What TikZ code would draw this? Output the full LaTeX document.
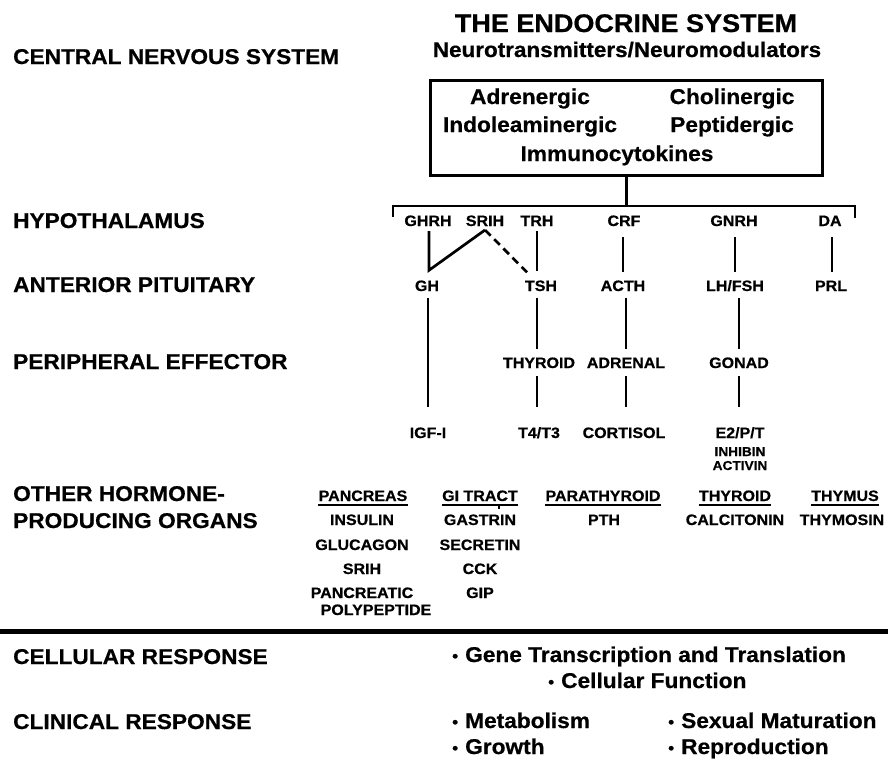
\documentclass[tikz,border=0pt]{standalone}
\usepackage{fontspec}
\setmainfont{Liberation Sans}[FakeStretch=1.06, BoldFeatures={FakeBold=0.6}]
\usetikzlibrary{calc}
\newcommand{\bul}{\makebox[13pt][l]{\fontsize{16}{16}\selectfont\raisebox{0.5pt}{•}}}
\begin{document}
\begin{tikzpicture}[x=1pt,y=-1pt,
  lbl/.style={font=\fontsize{21.4}{25}\selectfont\bfseries, inner sep=0pt, anchor=base west},
  big/.style={font=\fontsize{21.4}{25}\selectfont\bfseries, inner sep=0pt, anchor=base},
  sm/.style={font=\fontsize{15.1}{17}\selectfont\bfseries, inner sep=0pt, anchor=base},
  tny/.style={font=\fontsize{12.9}{14}\selectfont\bfseries, inner sep=0pt, anchor=base},
  conn/.style={line width=2.7pt},
  uline/.style={line width=1.8pt},
  dashconn/.style={line width=2.7pt, dash pattern=on 8pt off 5pt}]
\useasboundingbox (0,0) rectangle (888,761);
% title
\node[big, font=\fontsize{25.5}{29}\selectfont\bfseries] (title) at (626,32) {THE ENDOCRINE SYSTEM};
\node[big, font=\fontsize{21.2}{25}\selectfont\bfseries] (neuro) at (627,57) {Neurotransmitters/Neuromodulators};
% left labels
\node[lbl] (cns) at (13,64) {CENTRAL NERVOUS SYSTEM};
\node[lbl] (hyp) at (13,228) {HYPOTHALAMUS};
\node[lbl] (ant) at (13,292) {ANTERIOR PITUITARY};
\node[lbl] (per) at (13,369) {PERIPHERAL EFFECTOR};
\node[lbl] (oth1) at (13,501) {OTHER HORMONE-};
\node[lbl] (oth2) at (13,528) {PRODUCING ORGANS};
\node[lbl] (cel) at (13,664) {CELLULAR RESPONSE};
\node[lbl] (cli) at (13,729) {CLINICAL RESPONSE};
% box
\node[draw, line width=3pt, minimum width=392pt, minimum height=95pt, inner sep=0pt, anchor=north west] (box) at (429,79) {};
\node[big] (adrg) at (530,104) {Adrenergic};
\node[big] (chol) at (732,104) {Cholinergic};
\node[big] (indo) at (530,132) {Indoleaminergic};
\node[big] (pept) at (732,132) {Peptidergic};
\node[big] (immu) at (617,161) {Immunocytokines};
% bracket
\coordinate (brM) at ($(box.south)+(0,29)$);
\coordinate (brL) at (393,217);
\coordinate (brR) at (855,218);
\draw[conn] (box.south) -- (brM);
\draw[conn] (brL) -- (brL |- brM) -- (brR |- brM) -- (brR);
% hypothalamus row
\node[sm] (ghrh) at (428,226) {GHRH};
\node[sm] (srih) at (485,226) {SRIH};
\node[sm] (trh) at (537,226) {TRH};
\node[sm] (crf) at (624,226) {CRF};
\node[sm] (gnrh) at (734,226) {GNRH};
\node[sm] (da) at (830,226) {DA};
% pituitary row
\node[sm] (gh) at (427,291) {GH};
\node[sm] (tsh) at (541,291) {TSH};
\node[sm] (acth) at (623,291) {ACTH};
\node[sm] (lhfsh) at (735,291) {LH/FSH};
\node[sm] (prl) at (831,291) {PRL};
% effector row
\node[sm] (thyr) at (539,368) {THYROID};
\node[sm] (adren) at (626,368) {ADRENAL};
\node[sm] (gonad) at (739,368) {GONAD};
% hormone row
\node[sm] (igf) at (428,438) {IGF-I};
\node[sm] (t4t3) at (539,438) {T4/T3};
\node[sm] (cort) at (624,438) {CORTISOL};
\node[sm] (e2pt) at (740,438) {E2/P/T};
\node[tny] (inhib) at (740,456) {INHIBIN};
\node[tny] (activ) at (740,470) {ACTIVIN};
% hypothalamus -> pituitary
\coordinate (ghtop) at ($(gh.north)+(2,-10)$);
\coordinate (apex) at ($(srih.base)+(0,4)$);
\draw[conn, line join=miter] ($(ghrh.base)+(1,5)$) -- (ghtop) -- (apex);
\draw[dashconn] (apex) -- ($(tsh.north)+(-14,-8)$);
\draw[conn] ($(trh.base)+(0,5)$) -- ($(trh.base |- tsh.north)+(0,-9)$);
\draw[conn] ($(crf.base)+(-1,11)$) -- ($(crf.base |- acth.north)+(-1,-8)$);
\draw[conn] ($(gnrh.base)+(1,11)$) -- ($(gnrh.base |- lhfsh.north)+(1,-8)$);
\draw[conn] ($(da.base)+(2,11)$) -- ($(da.base |- prl.north)+(2,-8)$);
% pituitary -> effector -> hormone
\draw[conn] ($(gh.base)+(1,7)$) -- ($(gh.base |- igf.north)+(1,-20)$);
\draw[conn] ($(thyr.north |- tsh.base)+(-2,7)$) -- ($(thyr.north)+(-2,-8)$);
\draw[conn] ($(thyr.base)+(-2,8)$) -- ($(thyr.base |- t4t3.north)+(-2,-20)$);
\draw[conn] ($(adren.north |- acth.base)+(0,7)$) -- ($(adren.north)+(0,-8)$);
\draw[conn] ($(adren.base)+(0,8)$) -- ($(adren.base |- cort.north)+(0,-20)$);
\draw[conn] ($(gonad.north |- lhfsh.base)+(0,7)$) -- ($(gonad.north)+(0,-8)$);
\draw[conn] ($(gonad.base)+(0,8)$) -- ($(gonad.base |- e2pt.north)+(0,-20)$);
% other organs
\node[sm] (panc) at (363,501) {PANCREAS};
\node[sm] (gitr) at (480,501) {GI TRACT};
\node[sm] (para) at (603,501) {PARATHYROID};
\node[sm] (thyo) at (735,501) {THYROID};
\node[sm] (thym) at (845,501) {THYMUS};
\foreach \n in {panc,gitr,para,thyo,thym}
  \draw[uline] ($(\n.base west)+(0,4)$) -- ($(\n.base east)+(0,4)$);
\draw[line width=1.5pt] ($(gitr.base)+(19,4)$) -- ($(gitr.base)+(19,8)$);
\node[sm] (insu) at (362,525) {INSULIN};
\node[sm] (gluc) at (362,550) {GLUCAGON};
\node[sm] (srih2) at (362,574) {SRIH};
\node[sm] (pancp) at (362,598) {PANCREATIC};
\node[sm] (poly) at (376,615) {POLYPEPTIDE};
\node[sm] (gast) at (480,525) {GASTRIN};
\node[sm] (secr) at (480,550) {SECRETIN};
\node[sm] (cck) at (480,574) {CCK};
\node[sm] (gip) at (480,598) {GIP};
\node[sm] (pth) at (604,525) {PTH};
\node[sm] (calc) at (735,525) {CALCITONIN};
\node[sm] (thymo) at (842,525) {THYMOSIN};
% divider
\coordinate (divL) at (0,631);
\coordinate (divR) at (888,631);
\draw[line width=5pt] (divL) -- (divR);
% responses
\node[lbl] (gene) at (452,662) {\bul Gene Transcription and Translation};
\node[lbl] (cfun) at (548,688) {\bul Cellular Function};
\node[lbl] (meta) at (452,728) {\bul Metabolism};
\node[lbl] (grow) at (452,754) {\bul Growth};
\node[lbl] (sexm) at (668,728) {\bul Sexual Maturation};
\node[lbl] (repr) at (668,754) {\bul Reproduction};
\end{tikzpicture}
\end{document}
